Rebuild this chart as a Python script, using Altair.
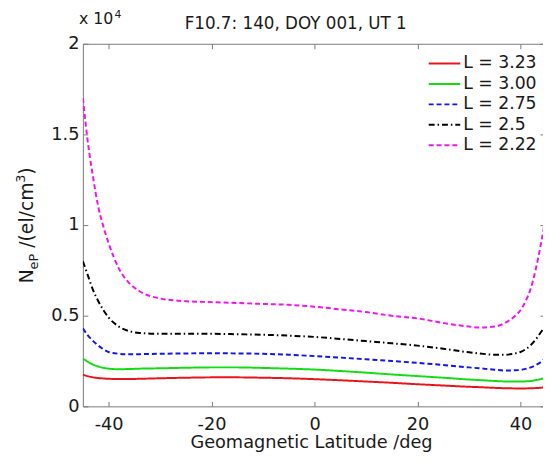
import altair as alt
import pandas as pd

# ---- data ----
lat = [-45, -44, -43, -42, -41, -40, -38, -36, -34, -30, -25, -20, -15, -10, -5, 0,
       5, 10, 15, 20, 25, 30, 32, 35, 37, 39, 40, 41, 42, 43, 44, 45]

series_names = ["L = 3.23", "L = 3.00", "L = 2.75", "L = 2.5", "L = 2.22"]

ne_L323 = [1750, 1660, 1600, 1560, 1540, 1520, 1510, 1510, 1520, 1550, 1580, 1600, 1600, 1580, 1550, 1500,
           1440, 1370, 1300, 1220, 1150, 1080, 1060, 1020, 1000, 990, 985, 990, 1000, 1010, 1030, 1070]
ne_L300 = [2650, 2450, 2300, 2200, 2120, 2080, 2050, 2060, 2080, 2100, 2130, 2150, 2150, 2120, 2080, 2030,
           1950, 1860, 1760, 1670, 1580, 1480, 1450, 1400, 1375, 1370, 1370, 1380, 1400, 1450, 1510, 1600]
ne_L275 = [4300, 3900, 3600, 3350, 3150, 3000, 2900, 2870, 2880, 2900, 2920, 2930, 2920, 2900, 2850, 2770,
           2690, 2600, 2500, 2400, 2280, 2150, 2100, 2020, 1980, 1990, 2010, 2070, 2150, 2280, 2450, 2700]
ne_L250 = [8000, 7200, 6400, 5800, 5300, 4900, 4400, 4150, 4050, 4000, 4000, 4000, 3980, 3950, 3900, 3830,
           3720, 3600, 3480, 3350, 3180, 2980, 2920, 2850, 2850, 2920, 3000, 3150, 3380, 3700, 4100, 4500]
ne_L222 = [17000, 14500, 12600, 11000, 9900, 9000, 7600, 6800, 6350, 5950, 5800, 5750, 5700, 5650, 5600, 5500,
           5350, 5200, 5000, 4850, 4600, 4400, 4350, 4400, 4600, 5000, 5300, 5800, 6500, 7600, 9000, 10600]

x_ticks = [-40, -20, 0, 20, 40]
y_ticks = [0, 5000, 10000, 15000, 20000]

colors = ["#e8141c", "#14dc14", "#1414ee", "#000000", "#f014f0"]
dashes = [[1, 0], [1, 0], [5, 3], [6, 3, 1.5, 3], [5, 3]]

title_text = "F10.7: 140, DOY 001, UT 1"
x_title = "Geomagnetic Latitude /deg"

# ---- build long table ----
all_series = [ne_L323, ne_L300, ne_L275, ne_L250, ne_L222]
rows = []
for name, vals in zip(series_names, all_series):
    for x, v in zip(lat, vals):
        rows.append({"series": name, "lat": x, "ne": v})
df = pd.DataFrame(rows)

FONT = "DejaVu Sans"
GREY = "#7a7a7a"

xs = alt.Scale(domain=[-45, 44.38], nice=False, zero=False)
ys = alt.Scale(domain=[0, 20000], nice=False, zero=False)
color = alt.Color("series:N", scale=alt.Scale(domain=series_names, range=colors), legend=None)
dash = alt.StrokeDash("series:N", scale=alt.Scale(domain=series_names, range=dashes), legend=None)

base = alt.Chart(df)

lines = base.mark_line(strokeWidth=2, clip=True, interpolate="monotone").encode(
    x=alt.X("lat:Q", scale=xs,
            axis=alt.Axis(orient="bottom", values=x_ticks, offset=-5, tickSize=5, domain=False,
                          grid=False, labelExpr="datum.value + ''", labelPadding=9, title=None,
                          labelFontSize=18, labelFont=FONT, tickColor=GREY, labelColor="#1a1a1a")),
    y=alt.Y("ne:Q", scale=ys,
            axis=alt.Axis(orient="left", values=y_ticks, offset=-5, tickSize=5, domain=False,
                          grid=False, labelExpr="datum.value / 10000 + ''", labelPadding=4, title=None,
                          labelFontSize=18, labelFont=FONT, tickColor=GREY, labelColor="#1a1a1a")),
    color=color,
    strokeDash=dash,
)

frame = base.mark_line(opacity=0, clip=True).encode(
    x=alt.X("lat:Q", scale=xs,
            axis=alt.Axis(orient="top", values=x_ticks, offset=-5, tickSize=5, domain=False,
                          grid=False, labels=False, title=None, tickColor=GREY)),
    y=alt.Y("ne:Q", scale=ys,
            axis=alt.Axis(orient="right", values=y_ticks, offset=-3, tickSize=5, domain=False,
                          grid=False, labels=False, title=None, tickColor=GREY)),
    detail="series:N",
)

leg = alt.Chart(pd.DataFrame({"series": series_names})).transform_window(
    idx="row_number()"
).transform_calculate(ly="20 + (datum.idx - 1) * 20.75")

leg_rules = leg.mark_rule(strokeWidth=2).encode(
    x=alt.value(351), x2=alt.value(383),
    y=alt.Y("ly:Q", scale=None, axis=None),
    color=color, strokeDash=dash,
)
leg_text = leg.mark_text(align="left", baseline="middle", font=FONT, fontSize=17.5, color="#1a1a1a").encode(
    x=alt.value(386),
    y=alt.Y("ly:Q", scale=None, axis=None),
    text="series:N",
)

ann = alt.Chart(pd.DataFrame({"a": [0]}))


def txt(s, x, y, size, angle=0, align="left", baseline="alphabetic"):
    kw = dict(text=s, align=align, baseline=baseline, font=FONT, fontSize=size, color="#1a1a1a")
    if angle:
        kw["angle"] = angle
    return ann.mark_text(**kw).encode(x=alt.value(x), y=alt.value(y))


texts = [
    txt(title_text, 216, -15, 17, align="center"),
    txt("x 10", -4, -20, 16),
    txt("4", 32, -26, 11),
    txt(x_title, 232, 410, 18, align="center"),
    # y axis title: N_eP /(el/cm^3)
    txt("N", -51, 243, 19, angle=270),
    txt("eP", -46, 229, 13, angle=270),
    txt("/(el/cm", -51, 207, 19, angle=270),
    txt("3", -59, 141, 13, angle=270),
    txt(")", -51, 133, 19, angle=270),
]

chart = alt.layer(lines, frame, leg_rules, leg_text, *texts).resolve_axis(
    x="independent", y="independent"
).properties(
    width=467,
    height=368,
    autosize=alt.AutoSizeParams(type="none"),
    padding={"left": 76, "top": 33, "right": 0, "bottom": 43},
    background="white",
).configure_view(
    stroke=GREY, strokeWidth=1
)

chart.save("out.html", embed_options={"renderer": "svg", "actions": False})
